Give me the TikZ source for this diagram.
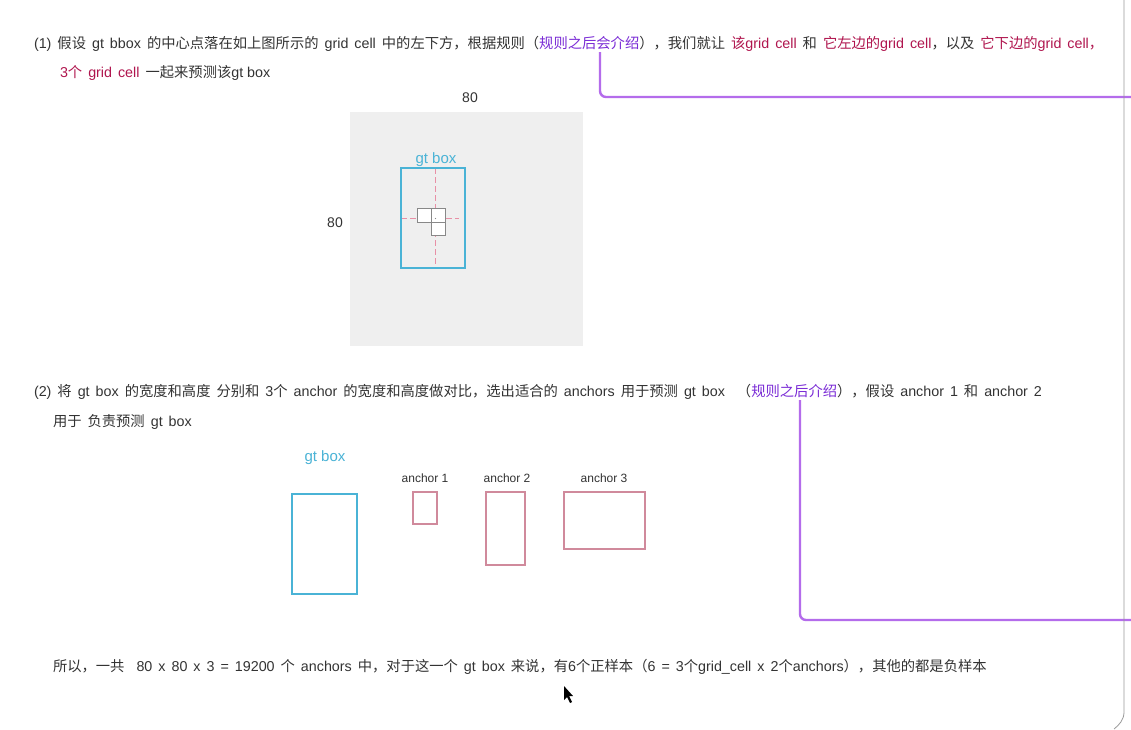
\documentclass[tikz,border=0pt]{standalone}
\usepackage{fontspec}
\setmainfont{Liberation Sans}
\newfontfamily\cjkf{Noto Sans CJK SC}
\XeTeXinterchartokenstate=1
\newXeTeXintercharclass\CJKcls
\count255="3000
\loop\ifnum\count255<"3040 \XeTeXcharclass\count255=\CJKcls \advance\count255 by 1 \repeat
\count255="4E00
\loop\ifnum\count255<"A000 \XeTeXcharclass\count255=\CJKcls \advance\count255 by 1 \repeat
\count255="FF00
\loop\ifnum\count255<"FFF0 \XeTeXcharclass\count255=\CJKcls \advance\count255 by 1 \repeat
\XeTeXinterchartoks 0 \CJKcls = {\begingroup\cjkf}
\XeTeXinterchartoks 4095 \CJKcls = {\begingroup\cjkf}
\XeTeXinterchartoks \CJKcls 0 = {\endgroup}
\XeTeXinterchartoks \CJKcls 4095 = {\endgroup}
\definecolor{txt}{HTML}{333333}
\definecolor{hl}{HTML}{B0154E}
\definecolor{pur}{HTML}{7A2BD6}
\definecolor{pline}{HTML}{B46CEB}
\definecolor{gtb}{HTML}{4AB3D6}
\definecolor{anc}{HTML}{D08A9C}
\definecolor{bgsq}{HTML}{EFEFEF}
\definecolor{cellc}{HTML}{888888}
\definecolor{dashc}{HTML}{E890A6}
\newcommand\gap{\kern6pt}
\newcommand\tfont{\fontsize{14.3}{17}\selectfont}
\newcommand\wsp{\spaceskip=6pt plus 1pt\relax}
\begin{document}
\begin{tikzpicture}[x=1pt,y=-1pt,
  t/.style={anchor=base west, inner sep=0pt, outer sep=0pt, text=txt, font=\tfont},
  lbl/.style={inner sep=0pt, text=txt, font=\fontsize{14}{16}\selectfont},
  small/.style={inner sep=0pt, text=txt, font=\fontsize{12}{14}\selectfont},
  gtlbl/.style={inner sep=0pt, text=gtb, font=\fontsize{15}{17}\selectfont},
  gtbox/.style={draw=gtb, line width=1.1pt},
  ancbox/.style={draw=anc, line width=1.1pt},
  cellbox/.style={draw=cellc, fill=white, line width=0.9pt},
  guide/.style={draw=dashc, dash pattern=on 6pt off 3pt, line width=0.8pt},
  note/.style={draw=pline, line width=2.4pt, rounded corners=6pt},
]
\useasboundingbox (0,0) rectangle (1131,729);
\fill[white] (0,0) rectangle (1131,729);

% ---------- line 1 ----------
\node[t] (a1) at (34,48) {\wsp(1) 假设 gt bbox 的中心点落在如上图所示的 grid cell 中的左下方，根据规则（};
\node[t,text=pur] (a2) at (a1.base east) {规则之后会介绍};
\node[t] (a3) at (a2.base east) {），我们就让\gap};
\node[t,text=hl] (a4) at (a3.base east) {\wsp 该grid cell};
\node[t] (a5) at (a4.base east) {\gap 和\gap};
\node[t,text=hl] (a6) at (a5.base east) {\wsp 它左边的grid cell};
\node[t] (a7) at (a6.base east) {，以及\gap};
\node[t,text=hl] (a8) at (a7.base east) {\wsp 它下边的grid cell，};
\node[t,text=hl] (b1) at (60,77) {\wsp 3个 grid cell};
\node[t] (b2) at (b1.base east) {\gap 一起来预测该gt box};

% ---------- grid figure ----------
\node[lbl] (top80) at (470,98) {80};
\node[lbl] (left80) at (335,223) {80};
\fill[bgsq] (350,112) rectangle (583,346);
\node[gtlbl] (gtl1) at (436,160) {gt box};
\draw[guide] (435.5,168) -- (435.5,268);
\draw[guide] (401,218.5) -- (459,218.5);
\draw[gtbox] (401,168) rectangle (465,268);
\draw[cellbox] (417,208) rectangle (431,222);
\draw[cellbox] (431,222) rectangle (445,235);
\draw[cellbox] (431,208) rectangle (445,222);
\fill[cellc] (435.5,218.5) circle (0.7pt);

% ---------- line 2 ----------
\node[t] (c1) at (34,396) {\wsp(2) 将 gt box 的宽度和高度 分别和 3个 anchor 的宽度和高度做对比，选出适合的 anchors 用于预测 gt box\gap\gap（};
\node[t,text=pur] (c2) at (c1.base east) {规则之后介绍};
\node[t] (c3) at (c2.base east) {\wsp），假设 anchor 1 和 anchor 2};
\node[t] (d1) at (53,426) {\wsp 用于 负责预测 gt box};

% ---------- anchors ----------
\node[gtlbl] (gtl2) at (325,458) {gt box};
\draw[gtbox] (292,494) rectangle (357,594);
\node[small] (n1) at (425,478) {anchor 1};
\draw[ancbox] (413,492) rectangle (437,524);
\node[small] (n2) at (507,478) {anchor 2};
\draw[ancbox] (486,492) rectangle (525,565);
\node[small] (n3) at (604,478) {anchor 3};
\draw[ancbox] (564,492) rectangle (645,549);

% ---------- bottom line ----------
\node[t] (e1) at (53,671) {\wsp 所以，一共\gap\gap 80 x 80 x 3 = 19200 个 anchors 中，对于这一个 gt box 来说，有6个正样本（6 = 3个grid\_cell x 2个anchors），其他的都是负样本};

% ---------- purple connectors ----------
\coordinate (r1) at (1131,97);
\coordinate (r2) at (1131,620);
\draw[note] ([yshift=-3pt]a2.south -| 600,0) |- (r1);
\draw[note] ([yshift=-3pt]c2.south -| 800,0) |- (r2);

% ---------- right border ----------
\draw[draw=gray!80, line width=0.8pt] (1124,0) -- (1124,712) .. controls (1124,720) and (1119,725) .. (1114,729);

% ---------- cursor ----------
\fill[black] (564,686) -- (564,700) -- (567,697) -- (570,703) -- (572,702) -- (569,696) -- (573,696) -- cycle;
\end{tikzpicture}
\end{document}
